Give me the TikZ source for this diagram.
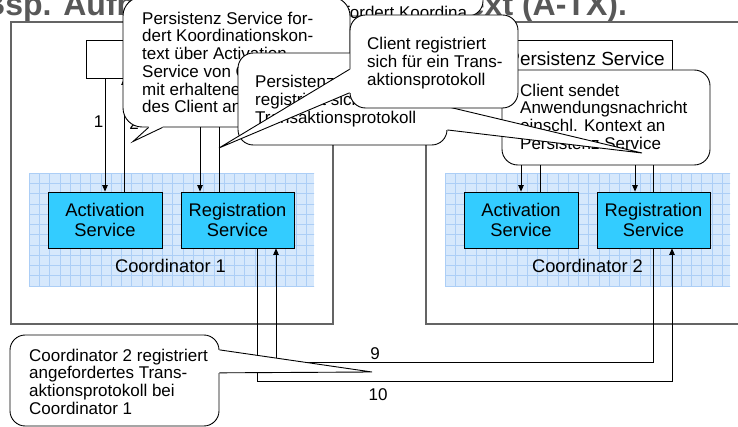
\documentclass[tikz,border=0pt]{standalone}
\usepackage{fontspec}
\setmainfont{Liberation Sans}
\usetikzlibrary{arrows.meta,calc}

\definecolor{frame}{RGB}{100,100,100}
\definecolor{gridfill}{RGB}{214,232,252}
\definecolor{gridline}{RGB}{172,206,246}
\definecolor{svc}{RGB}{51,204,255}
\definecolor{titlegray}{RGB}{88,88,88}

\tikzset{
  outerbox/.style={draw=frame, line width=1.3pt},
  plainbox/.style={draw=black, line width=0.8pt, fill=white, inner sep=0pt},
  svcbox/.style={draw=black, line width=0.8pt, fill=svc, minimum height=56pt,
    align=center, inner sep=0pt, font=\fontsize{18.3pt}{20pt}\selectfont},
  msg/.style={draw=black, line width=0.8pt},
  arr/.style={msg, -{Triangle[length=6.5pt,width=5.5pt]}},
  callout/.style={draw=black, line width=0.9pt, fill=white, inner sep=0pt},
  tail/.style={draw=black, line width=0.9pt, line join=miter},
  ctext/.style={anchor=north west, inner sep=0pt, align=left,
    font=\fontsize{17pt}{17.7pt}\selectfont},
  numlabel/.style={anchor=base, inner sep=0pt, font=\fontsize{17pt}{17pt}\selectfont},
  coordlabel/.style={anchor=base, inner sep=0pt, font=\fontsize{18.3pt}{20pt}\selectfont},
}

\begin{document}
\begin{tikzpicture}[x=1pt, y=-1pt]
\useasboundingbox (0,0) rectangle (738,427);
\clip (0,0) rectangle (738,427);
\fill[white] (0,0) rectangle (738,427);

% slide title
\node[anchor=base west, inner sep=0pt, text=titlegray,
      font=\fontsize{32pt}{32pt}\selectfont\bfseries] (title) at (-18,16)
      {Bsp. Aufbau Koordinationskontext (A-TX).};

% hosts
\node[outerbox, minimum width=322pt, minimum height=302pt] (host1) at (172,173) {};
\node[outerbox, minimum width=334pt, minimum height=302pt] (host2) at (593,173) {};

% client and persistence service boxes
\node[plainbox, minimum width=152pt, minimum height=38pt] (client) at (162,59) {};
\node[plainbox, minimum width=172pt, minimum height=38pt,
      font=\fontsize{19pt}{19pt}\selectfont] (pers) at (586,59) {Persistenz Service};

% coordinator areas with grid
\fill[gridfill] (29,173) rectangle (314,287);
\begin{scope}
  \clip (29,173) rectangle (314,287);
  \draw[gridline, line width=0.6pt, shift={(29pt,-173pt)}, step=10.27pt] (0,0) grid (290pt,-120pt);
\end{scope}
\fill[gridfill] (445,173) rectangle (730,287);
\begin{scope}
  \clip (445,173) rectangle (730,287);
  \draw[gridline, line width=0.6pt, shift={(445pt,-173pt)}, step=10.27pt] (0,0) grid (290pt,-120pt);
\end{scope}

\node[svcbox, minimum width=114pt] (act1) at (105,220) {Activation\\Service};
\node[svcbox, minimum width=113pt] (reg1) at (237.5,220) {Registration\\Service};
\node[coordlabel] (c1lbl) at (170.5,273) {Coordinator 1};

\node[svcbox, minimum width=114pt] (act2) at (521,220) {Activation\\Service};
\node[svcbox, minimum width=113pt] (reg2) at (653.5,220) {Registration\\Service};
\node[coordlabel] (c2lbl) at (587.5,273) {Coordinator 2};

% messages between client and coordinator 1
\draw[arr] (client.south -| act1.north) -- (act1.north);
\draw[arr] ([xshift=19pt]act1.north) -- ([xshift=19pt]act1.north |- client.south);
\draw[arr] ([xshift=-37.5pt]reg1.north |- client.south) -- ([xshift=-37.5pt]reg1.north);
\draw[arr] ([xshift=-18.5pt]reg1.north) -- ([xshift=-18.5pt]reg1.north |- client.south);
\node[numlabel] (n1) at (98.5,128) {1};
\node[numlabel] (n2) at (134,130) {2};

% messages between persistence service and coordinator 2
\draw[arr] (act2.north |- pers.south) -- (act2.north);
\draw[arr] ([xshift=19pt]act2.north) -- ([xshift=19pt]act2.north |- pers.south);
\draw[arr] ([xshift=-18.5pt]reg2.north |- pers.south) -- ([xshift=-18.5pt]reg2.north);
\draw[arr] (reg2.north) -- (reg2.north |- pers.south);

% messages between the two coordinators
\coordinate (m9) at (0,362);
\coordinate (m10) at (0,381);
\draw[arr] (reg2.south) -- (reg2.south |- m9) -- ([xshift=38.5pt]reg1.south |- m9)
           -- ([xshift=38.5pt]reg1.south);
\draw[arr] ([xshift=19.5pt]reg1.south) -- ([xshift=19.5pt]reg1.south |- m10)
           -- ([xshift=18.5pt]reg2.south |- m10) -- ([xshift=18.5pt]reg2.south);
\node[numlabel] (n9) at (375,359) {9};
\node[numlabel] (n10) at (378,400) {10};

% callout behind the others
\node[callout, rounded corners=15pt, minimum width=193pt, minimum height=76pt] (coH) at (386.5,-22) {};
\node[anchor=base west, inner sep=0pt, font=\fontsize{17pt}{17.7pt}\selectfont] (coHtxt) at (345,19) {fordert Koordina};

% callout: context request
\node[callout, rounded corners=19pt, minimum width=227pt, minimum height=130pt] (coA) at (236.5,62) {};
\coordinate (tipA) at (133,141.5);
\coordinate (a1) at ($(coA.south west)+(26,0)$);
\coordinate (a2) at ($(coA.south west)+(40,0)$);
\fill[white] (a1) -- (tipA) -- (a2) -- ([yshift=2pt]a2) -- ([yshift=2pt]a1) -- cycle;
\draw[tail] (a1) -- (tipA) -- (a2);
\node[ctext] (coAtxt) at (142,11.7) {Persistenz Service for-\\dert Koordinationskon-\\text über Activation\\Service von Coordinator 2\\mit erhaltenem Kontext\\des Client an};

% callout: application message
\node[callout, rounded corners=15.8pt, minimum width=208pt, minimum height=95pt] (coD) at (606,117.5) {};
\node[ctext] (coDtxt) at (520,83.7) {Client sendet\\Anwendungsnachricht\\einschl. Kontext an\\Persistenz Service};

% callout: persistence service registers
\node[callout, rounded corners=15.3pt, minimum width=209pt, minimum height=92pt] (coB) at (342.5,99) {};
\coordinate (tipB) at (642,153);
\coordinate (b1) at ($(coB.north east)!7/12!(coB.south east)$);
\coordinate (b2) at ($(coB.north east)!10/12!(coB.south east)$);
\node[ctext] (coBtxt) at (255,75.2) {Persistenz Service\\registriert sich für ein\\Transaktionsprotokoll};
\fill[white] (b1) -- (tipB) -- (b2) -- ([xshift=-2pt]b2) -- ([xshift=-2pt]b1) -- cycle;
\draw[tail] (b1) -- (tipB) -- (b2);

% callout: client registers
\node[callout, rounded corners=15.5pt, minimum width=168pt, minimum height=93pt] (coC) at (434,61.5) {};
\coordinate (tipC) at (219,148);
\coordinate (c1) at ($(coC.north west)!7/12!(coC.south west)$);
\coordinate (c2) at ($(coC.north west)!10/12!(coC.south west)$);
\fill[white] (c1) -- (tipC) -- (c2) -- ([xshift=2pt]c2) -- ([xshift=2pt]c1) -- cycle;
\draw[tail] (c1) -- (tipC) -- (c2);
\node[ctext] (coCtxt) at (367,37.2) {Client registriert\\sich für ein Trans-\\aktionsprotokoll};

% callout: coordinator 2 registers at coordinator 1
\node[callout, rounded corners=15.2pt, minimum width=209pt, minimum height=91pt] (coE) at (114.5,380.5) {};
\coordinate (tipE) at (372,372);
\coordinate (e1) at ($(coE.north east)!2/12!(coE.south east)$);
\coordinate (e2) at ($(coE.north east)!5/12!(coE.south east)$);
\fill[white] (e1) -- (tipE) -- (e2) -- ([xshift=-2pt]e2) -- ([xshift=-2pt]e1) -- cycle;
\draw[tail] (e1) -- (tipE) -- (e2);
\node[ctext] (coEtxt) at (29,348.7) {Coordinator 2 registriert\\angefordertes Trans-\\aktionsprotokoll bei\\Coordinator 1};
\end{tikzpicture}
\end{document}
